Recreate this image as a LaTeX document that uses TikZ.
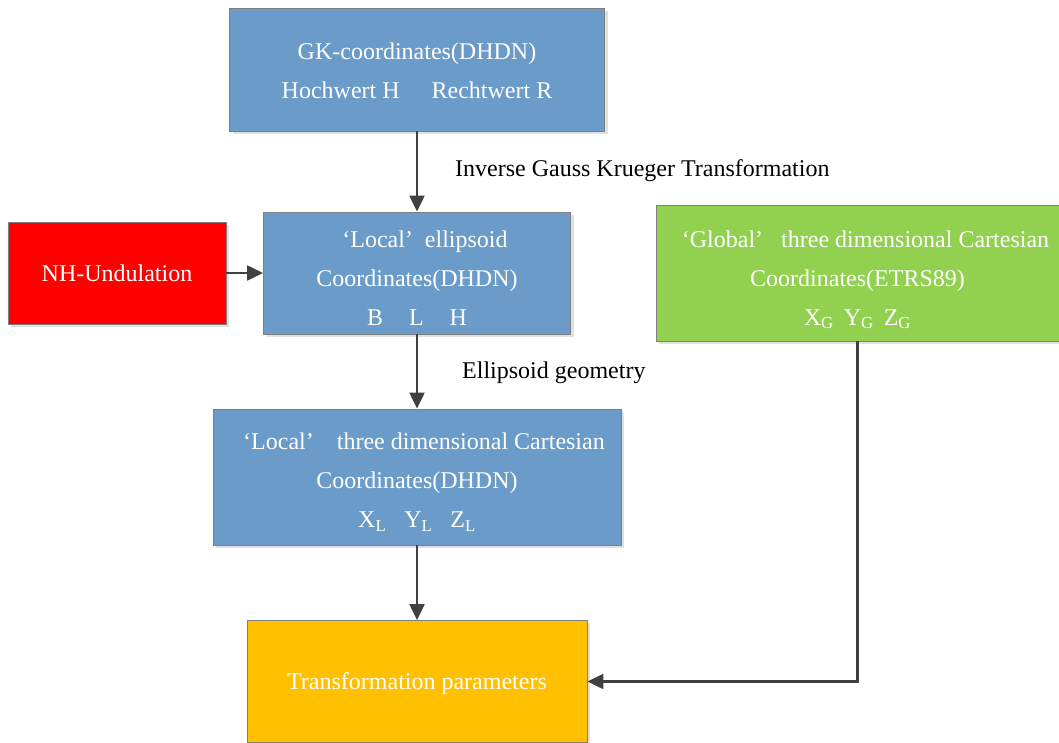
\documentclass[tikz,border=0pt]{standalone}
\usepackage{fontspec}
\setmainfont{Liberation Serif}
\usetikzlibrary{arrows.meta,shadows}
\definecolor{blueF}{HTML}{6B9BC8}
\definecolor{greenF}{HTML}{92D050}
\definecolor{orangeF}{HTML}{FFC000}
\definecolor{redF}{HTML}{FF0000}
\definecolor{bordC}{HTML}{7F7F7F}
\definecolor{arrC}{HTML}{404040}
\newcommand{\tstrut}[1]{\rule{0pt}{#1pt}}
\tikzset{
  box/.style={rectangle, draw=bordC, line width=0.9pt, text=white, align=center,
    inner sep=0pt, font=\fontsize{24}{39}\selectfont,
    drop shadow={shadow xshift=3pt, shadow yshift=-3pt, opacity=0.12, fill=black}},
  lbl/.style={inner sep=0pt, text=black, font=\fontsize{24}{29}\selectfont},
  arr/.style={draw=arrC, line width=2.3pt, -{Triangle[length=16pt,width=15pt]}}
}
\begin{document}
\begin{tikzpicture}[x=1pt,y=-1pt]
\useasboundingbox (0,0) rectangle (1059,743);
\node[box, fill=blueF, minimum width=375pt, minimum height=123pt] (gk) at (417,69.5)
  {\tstrut{19}GK-coordinates(DHDN)\\Hochwert H\hspace{32pt}Rechtwert R};
\node[box, fill=blueF, minimum width=307pt, minimum height=122pt] (le) at (417,273)
  {\tstrut{27}\hspace*{16pt}‘Local’\hspace{12pt}ellipsoid\\Coordinates(DHDN)\\B\hspace{26pt}L\hspace{26pt}H};
\node[box, fill=redF, minimum width=218pt, minimum height=102pt] (nh) at (117,273)
  {NH-Undulation};
\node[box, fill=greenF, minimum width=403pt, minimum height=136pt] (gr) at (857.5,273)
  {\tstrut{30}\hspace*{16pt}‘Global’\hspace{18pt}three dimensional Cartesian\\Coordinates(ETRS89)\\X\textsubscript{G}\hspace{10pt}Y\textsubscript{G}\hspace{10pt}Z\textsubscript{G}};
\node[box, fill=blueF, minimum width=408pt, minimum height=136pt] (lc) at (417,477)
  {\tstrut{27}\hspace*{14pt}‘Local’\hspace{23pt}three dimensional Cartesian\\Coordinates(DHDN)\\X\textsubscript{L}\hspace{18pt}Y\textsubscript{L}\hspace{18pt}Z\textsubscript{L}};
\node[box, fill=orangeF, minimum width=340pt, minimum height=122pt] (tp) at (417,681.5)
  {\tstrut{22}Transformation parameters};
\node[lbl, anchor=west] (l1) at (455,171) {Inverse Gauss Krueger Transformation};
\node[lbl, anchor=west] (l2) at (462,373) {Ellipsoid geometry};
\draw[arr] (gk) -- (le);
\draw[arr] (nh) -- (le);
\draw[arr] (le) -- (lc);
\draw[arr] (lc) -- (tp);
\draw[arr] (gr.south) |- (tp.east);
\end{tikzpicture}
\end{document}
